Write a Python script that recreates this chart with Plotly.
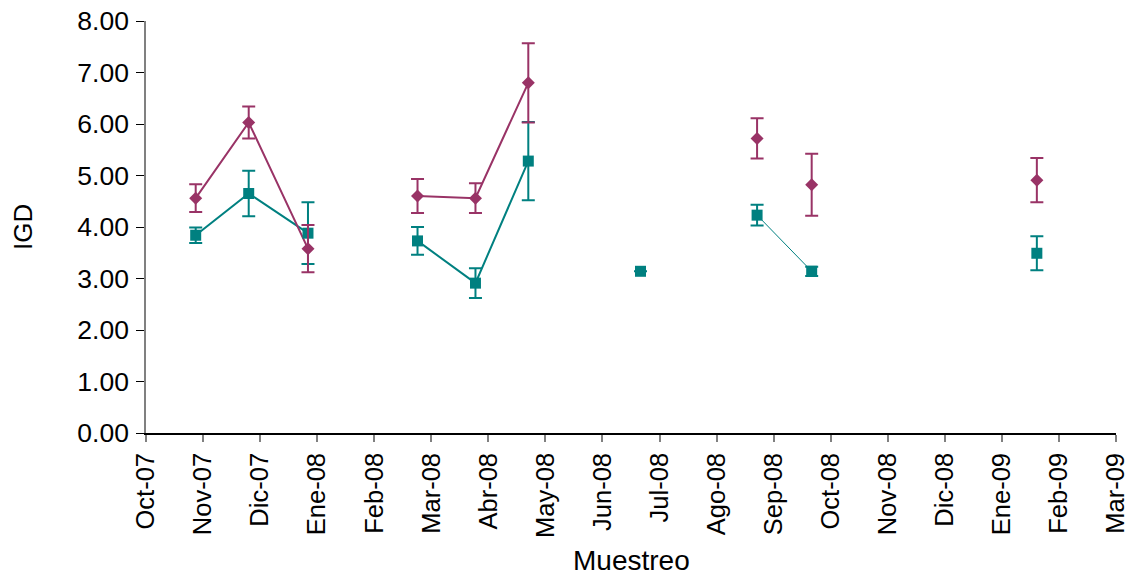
import plotly.graph_objects as go
import pandas as pd

# ---- data ----
fechas = ["2007-10-28", "2007-11-25", "2007-12-27", "2008-02-23", "2008-03-25",
          "2008-04-22", "2008-06-21", "2008-08-23", "2008-09-21", "2009-01-20"]
igd_morado = [4.56, 6.03, 3.58, 4.60, 4.56, 6.80, None, 5.72, 4.82, 4.91]
err_morado = [0.27, 0.31, 0.46, 0.33, 0.29, 0.77, None, 0.39, 0.60, 0.43]
igd_verde = [3.84, 4.65, 3.88, 3.73, 2.91, 5.28, 3.14, 4.23, 3.14, 3.49]
err_verde = [0.15, 0.44, 0.60, 0.27, 0.29, 0.76, 0.0, 0.20, 0.09, 0.33]
tramos_morado = [[0, 1, 2], [3, 4, 5]]
tramos_verde = [[0, 1, 2], [3, 4, 5]]
tramos_verde_fino = [[7, 8]]
etiquetas_mes = ["Oct-07", "Nov-07", "Dic-07", "Ene-08", "Feb-08", "Mar-08", "Abr-08",
                 "May-08", "Jun-08", "Jul-08", "Ago-08", "Sep-08", "Oct-08", "Nov-08",
                 "Dic-08", "Ene-09", "Feb-09", "Mar-09"]

MORADO = "#993366"
VERDE = "#008080"
FONT = "Liberation Sans, Arial, sans-serif"


def mes_idx(d):
    t = pd.Timestamp(d)
    return (t.year - 2007) * 12 + t.month - 10 + (t.day - 1) / t.days_in_month


x = [mes_idx(d) for d in fechas]

fig = go.Figure()


def add_lines(tramos, ys, color, width):
    for tr in tramos:
        fig.add_trace(go.Scatter(x=[x[i] for i in tr], y=[ys[i] for i in tr], mode="lines",
                                 line=dict(color=color, width=width), hoverinfo="skip",
                                 showlegend=False))


add_lines(tramos_verde, igd_verde, VERDE, 2)
add_lines(tramos_verde_fino, igd_verde, VERDE, 1)
add_lines(tramos_morado, igd_morado, MORADO, 2)

fig.add_trace(go.Scatter(
    x=x, y=igd_verde, mode="markers", showlegend=False,
    marker=dict(symbol="square", size=11, color=VERDE),
    error_y=dict(type="data", array=err_verde, visible=True, color=VERDE, thickness=2, width=6.5)))
fig.add_trace(go.Scatter(
    x=x, y=igd_morado, mode="markers", showlegend=False,
    marker=dict(symbol="diamond", size=10, color=MORADO),
    error_y=dict(type="data", array=err_morado, visible=True, color=MORADO, thickness=2, width=6.5)))

L, R, T, B = 146, 13, 21, 142
W, H = 1129, 575
fig.update_layout(
    width=W, height=H,
    margin=dict(l=L, r=R, t=T, b=B),
    paper_bgcolor="white", plot_bgcolor="white",
    font=dict(family=FONT, size=26.5, color="black"),
    xaxis=dict(range=[-0.0001, 17.0001], tickmode="array",
               tickvals=list(range(len(etiquetas_mes))),
               ticktext=etiquetas_mes, tickangle=-90, showgrid=False, zeroline=False,
               showline=True, linecolor="black", linewidth=1.5,
               ticks="outside", ticklen=7, tickcolor="#808080", tickwidth=1.5,
               tickfont=dict(size=25.5),
               ticklabelstandoff=1, ticklabeloverflow="allow", automargin=False),
    yaxis=dict(range=[0, 8], dtick=1, tickformat=".2f", showgrid=False, zeroline=False,
               showline=True, linecolor="#808080", linewidth=1.5,
               ticks="outside", ticklen=8, tickcolor="black", tickwidth=1,
               ticklabelstandoff=2, automargin=False),
    annotations=[
        dict(text="IGD", xref="paper", yref="paper", x=(23 - L) / (W - L - R), y=0.5,
             xanchor="center", yanchor="middle", textangle=-90, showarrow=False,
             font=dict(size=26)),
        dict(text="Muestreo", xref="paper", yref="paper", x=0.5,
             y=-(560 - (H - B)) / (H - T - B), xanchor="center", yanchor="middle",
             showarrow=False, font=dict(size=28)),
    ],
)

fig.write_html("out.html")
